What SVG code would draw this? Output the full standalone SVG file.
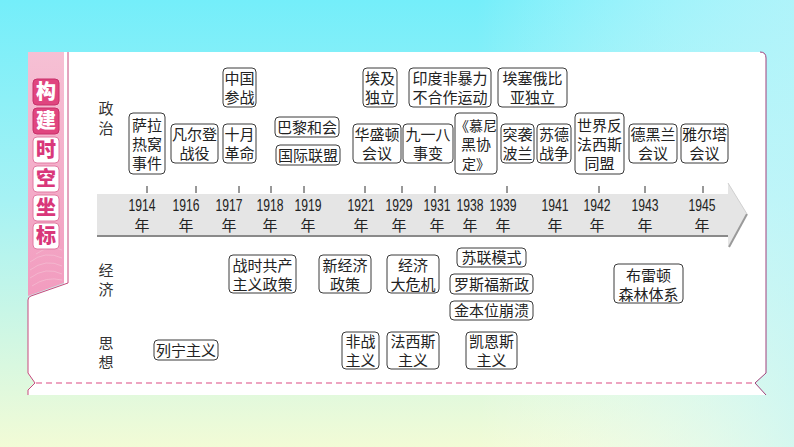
<svg xmlns="http://www.w3.org/2000/svg" width="794" height="447" viewBox="0 0 794 447">
<defs>
<linearGradient id="bg" x1="0" y1="0" x2="0" y2="1">
<stop offset="0" stop-color="#74eefa"/>
<stop offset="0.45" stop-color="#a6f2f4"/>
<stop offset="1" stop-color="#f2fbd6"/>
</linearGradient>
<linearGradient id="bg2" x1="0" y1="0" x2="1" y2="0">
<stop offset="0" stop-color="#f4fbd0" stop-opacity="0.0"/>
<stop offset="0.6" stop-color="#ffffff" stop-opacity="0"/>
<stop offset="1" stop-color="#c8f6fa" stop-opacity="0.7"/>
</linearGradient>
<linearGradient id="side" x1="0" y1="0" x2="0" y2="1">
<stop offset="0" stop-color="#f6c0d4"/>
<stop offset="1" stop-color="#f29cbf"/>
</linearGradient>
<style>
.t{font-family:"Noto Sans CJK SC","Noto Sans",sans-serif;font-size:15px;fill:#222;text-anchor:middle}
.lbl{font-family:"Noto Sans CJK SC","Noto Sans",sans-serif;font-size:15px;fill:#333;text-anchor:middle}
.yr{font-family:"Liberation Sans","Noto Sans CJK SC",sans-serif;font-size:16px;fill:#222;text-anchor:middle}
.yc{font-family:"Noto Sans CJK SC",sans-serif;font-size:15px;fill:#222;text-anchor:middle}
.box{fill:#fff;stroke:#3a3a3a;stroke-width:1}
.tick{stroke:#333;stroke-width:1}
.sb{font-family:"Noto Sans CJK SC",sans-serif;font-size:20px;font-weight:900;text-anchor:middle}
</style>
</defs>
<rect x="0" y="0" width="794" height="447" fill="url(#bg)"/>
<rect x="0" y="0" width="794" height="447" fill="url(#bg2)"/>

<!-- panel -->
<path d="M64 52 H760 Q766 52 766 58 V373 L755 383 L766 395 H28 V390 L35 383 L28 373 V300 Q28 297 31 296 L64 284 Z" fill="#fff"/>
<path d="M760 52 Q766 52 766 58 V373 L755 383 L766 395" fill="none" stroke="#a0407a" stroke-width="1"/>
<path d="M68 52 V283 L31 296 Q28 297 28 300 V373 L35 383 L28 390 V395" fill="none" stroke="#c8487e" stroke-width="1"/>
<!-- sidebar -->
<path d="M28 52 H64 V283 L28 296 Z" fill="url(#side)"/>
<g fill="none" stroke="#f7c9da" stroke-width="0.6" opacity="0.9">
<path d="M30 262 Q45 250 62 258"/><path d="M30 270 Q46 258 62 266"/><path d="M30 278 Q46 266 62 274"/><path d="M32 286 Q46 276 62 280"/>
<path d="M36 254 Q50 244 62 250"/>
</g>
<g id="sidebar">
<rect x="33" y="79" width="26" height="26" rx="4" fill="#e0457f" stroke="#c8306a"/>
<text class="sb" x="46" y="99" fill="#fff">构</text>
<rect x="33" y="108" width="26" height="26" rx="4" fill="#e0457f" stroke="#c8306a"/>
<text class="sb" x="46" y="128" fill="#fff">建</text>
<rect x="33" y="137" width="26" height="26" rx="4" fill="#fff" stroke="#e27aa2"/>
<text class="sb" x="46" y="157" fill="#d9377a">时</text>
<rect x="33" y="166" width="26" height="26" rx="4" fill="#fff" stroke="#e27aa2"/>
<text class="sb" x="46" y="186" fill="#d9377a">空</text>
<rect x="33" y="195" width="26" height="26" rx="4" fill="#fff" stroke="#e27aa2"/>
<text class="sb" x="46" y="215" fill="#d9377a">坐</text>
<rect x="33" y="223" width="26" height="26" rx="4" fill="#fff" stroke="#e27aa2"/>
<text class="sb" x="46" y="243" fill="#d9377a">标</text>
</g>
<line x1="36" y1="383" x2="755" y2="383" stroke="#dc4a82" stroke-width="1.2" stroke-dasharray="6 4"/>

<!-- row labels -->
<g id="labels">
<text class="lbl" x="106" y="113.5">政</text><text class="lbl" x="106" y="133.5">治</text>
<text class="lbl" x="106" y="275.5">经</text><text class="lbl" x="106" y="294.5">济</text>
<text class="lbl" x="106" y="348.5">思</text><text class="lbl" x="106" y="367.5">想</text>
</g>

<!-- timeline -->
<g id="timeline">
<rect x="97" y="194" width="632" height="42" fill="#e5e5e5"/>
<rect x="97" y="235" width="632" height="2" fill="#8a8a8a"/>
<polygon points="728,183 747,214 728,247 728,194" fill="#e5e5e5"/>
<polyline points="729,247 747,214" fill="none" stroke="#9a9a9a" stroke-width="2"/>
<polyline points="728,183 747,214" fill="none" stroke="#d0d0d0" stroke-width="1"/>
<g class="tick">
<line x1="147" y1="186" x2="147" y2="193"/><line x1="196" y1="186" x2="196" y2="193"/>
<line x1="239" y1="186" x2="239" y2="193"/><line x1="271" y1="186" x2="271" y2="193"/>
<line x1="304" y1="186" x2="304" y2="193"/><line x1="365" y1="186" x2="365" y2="193"/>
<line x1="402" y1="186" x2="402" y2="193"/><line x1="435" y1="186" x2="435" y2="193"/>
<line x1="507" y1="186" x2="507" y2="193"/><line x1="599" y1="186" x2="599" y2="193"/>
<line x1="645" y1="186" x2="645" y2="193"/><line x1="703" y1="186" x2="703" y2="193"/>
</g>
<text class="yr" x="142" y="211" textLength="27" lengthAdjust="spacingAndGlyphs">1914</text><text class="yc" x="142" y="231">年</text>
<text class="yr" x="186" y="211" textLength="27" lengthAdjust="spacingAndGlyphs">1916</text><text class="yc" x="186" y="231">年</text>
<text class="yr" x="229" y="211" textLength="27" lengthAdjust="spacingAndGlyphs">1917</text><text class="yc" x="229" y="231">年</text>
<text class="yr" x="270" y="211" textLength="27" lengthAdjust="spacingAndGlyphs">1918</text><text class="yc" x="270" y="231">年</text>
<text class="yr" x="308" y="211" textLength="27" lengthAdjust="spacingAndGlyphs">1919</text><text class="yc" x="308" y="231">年</text>
<text class="yr" x="361" y="211" textLength="27" lengthAdjust="spacingAndGlyphs">1921</text><text class="yc" x="361" y="231">年</text>
<text class="yr" x="399" y="211" textLength="27" lengthAdjust="spacingAndGlyphs">1929</text><text class="yc" x="399" y="231">年</text>
<text class="yr" x="437" y="211" textLength="27" lengthAdjust="spacingAndGlyphs">1931</text><text class="yc" x="437" y="231">年</text>
<text class="yr" x="470" y="211" textLength="27" lengthAdjust="spacingAndGlyphs">1938</text><text class="yc" x="470" y="231">年</text>
<text class="yr" x="503" y="211" textLength="27" lengthAdjust="spacingAndGlyphs">1939</text><text class="yc" x="503" y="231">年</text>
<text class="yr" x="555" y="211" textLength="27" lengthAdjust="spacingAndGlyphs">1941</text><text class="yc" x="555" y="231">年</text>
<text class="yr" x="597" y="211" textLength="27" lengthAdjust="spacingAndGlyphs">1942</text><text class="yc" x="597" y="231">年</text>
<text class="yr" x="645" y="211" textLength="27" lengthAdjust="spacingAndGlyphs">1943</text><text class="yc" x="645" y="231">年</text>
<text class="yr" x="702" y="211" textLength="27" lengthAdjust="spacingAndGlyphs">1945</text><text class="yc" x="702" y="231">年</text>
</g>

<!-- politics -->
<g id="n-sarajevo"><rect class="box" x="129" y="113" width="36" height="61" rx="4"/><text class="t" x="147" y="130.5">萨拉</text><text class="t" x="147" y="149.5">热窝</text><text class="t" x="147" y="168.5">事件</text></g>
<g id="n-verdun"><rect class="box" x="171" y="124" width="47" height="39" rx="4"/><text class="t" x="194.5" y="139.5">凡尔登</text><text class="t" x="194.5" y="158.5">战役</text></g>
<g id="n-china"><rect class="box" x="223" y="68" width="33" height="39" rx="4"/><text class="t" x="239.5" y="83.5">中国</text><text class="t" x="239.5" y="102.5">参战</text></g>
<g id="n-october"><rect class="box" x="223" y="124" width="33" height="39" rx="4"/><text class="t" x="239.5" y="139.5">十月</text><text class="t" x="239.5" y="158.5">革命</text></g>
<g id="n-paris"><rect class="box" x="275" y="117" width="64" height="20" rx="4"/><text class="t" x="307" y="132.5">巴黎和会</text></g>
<g id="n-league"><rect class="box" x="276" y="145" width="64" height="20" rx="4"/><text class="t" x="308" y="160.5">国际联盟</text></g>
<g id="n-egypt"><rect class="box" x="363" y="68" width="34" height="39" rx="4"/><text class="t" x="380" y="83.5">埃及</text><text class="t" x="380" y="102.5">独立</text></g>
<g id="n-washington"><rect class="box" x="353" y="124" width="48" height="39" rx="4"/><text class="t" x="377" y="139.5">华盛顿</text><text class="t" x="377" y="158.5">会议</text></g>
<g id="n-india"><rect class="box" x="409" y="68" width="82" height="39" rx="4"/><text class="t" x="450" y="83.5">印度非暴力</text><text class="t" x="450" y="102.5">不合作运动</text></g>
<g id="n-ethiopia"><rect class="box" x="498" y="68" width="69" height="39" rx="4"/><text class="t" x="532.5" y="83.5">埃塞俄比</text><text class="t" x="532.5" y="102.5">亚独立</text></g>
<g id="n-918"><rect class="box" x="403" y="124" width="50" height="39" rx="4"/><text class="t" x="428" y="139.5">九一八</text><text class="t" x="428" y="158.5">事变</text></g>
<g id="n-munich"><rect class="box" x="455" y="113" width="42" height="61" rx="4"/><text class="t" x="476" y="130.5" style="font-size:14px">《慕尼</text><text class="t" x="476" y="149.5">黑协</text><text class="t" x="476" y="168.5" style="font-size:14px">定》</text></g>
<g id="n-poland"><rect class="box" x="501" y="124" width="33" height="39" rx="4"/><text class="t" x="517.5" y="139.5">突袭</text><text class="t" x="517.5" y="158.5">波兰</text></g>
<g id="n-sovietgerman"><rect class="box" x="537" y="124" width="34" height="39" rx="4"/><text class="t" x="554" y="139.5">苏德</text><text class="t" x="554" y="158.5">战争</text></g>
<g id="n-alliance"><rect class="box" x="575" y="113" width="49" height="61" rx="4"/><text class="t" x="599.5" y="130.5">世界反</text><text class="t" x="599.5" y="149.5">法西斯</text><text class="t" x="599.5" y="168.5">同盟</text></g>
<g id="n-tehran"><rect class="box" x="629" y="124" width="48" height="39" rx="4"/><text class="t" x="653" y="139.5">德黑兰</text><text class="t" x="653" y="158.5">会议</text></g>
<g id="n-yalta"><rect class="box" x="681" y="124" width="47" height="39" rx="4"/><text class="t" x="704.5" y="139.5">雅尔塔</text><text class="t" x="704.5" y="158.5">会议</text></g>

<!-- economy -->
<g id="n-warcomm"><rect class="box" x="229" y="255" width="67" height="38" rx="4"/><text class="t" x="262.5" y="270.5">战时共产</text><text class="t" x="262.5" y="289.5">主义政策</text></g>
<g id="n-nep"><rect class="box" x="319" y="255" width="52" height="38" rx="4"/><text class="t" x="345" y="270.5">新经济</text><text class="t" x="345" y="289.5">政策</text></g>
<g id="n-crisis"><rect class="box" x="387" y="255" width="52" height="38" rx="4"/><text class="t" x="413" y="270.5">经济</text><text class="t" x="413" y="289.5">大危机</text></g>
<g id="n-sovietmodel"><rect class="box" x="457" y="248" width="69" height="19" rx="4"/><text class="t" x="491.5" y="263">苏联模式</text></g>
<g id="n-newdeal"><rect class="box" x="450" y="274" width="83" height="20" rx="4"/><text class="t" x="491.5" y="289.5">罗斯福新政</text></g>
<g id="n-gold"><rect class="box" x="450" y="301" width="83" height="19" rx="4"/><text class="t" x="491.5" y="316">金本位崩溃</text></g>
<g id="n-bretton"><rect class="box" x="614" y="264" width="69" height="39" rx="4"/><text class="t" x="648.5" y="280.5">布雷顿</text><text class="t" x="648.5" y="299.5">森林体系</text></g>

<!-- thought -->
<g id="n-leninism"><rect class="box" x="154" y="340" width="64" height="20" rx="4"/><text class="t" x="186" y="355.5">列宁主义</text></g>
<g id="n-antiwar"><rect class="box" x="342" y="332" width="37" height="37" rx="4"/><text class="t" x="360.5" y="346.5">非战</text><text class="t" x="360.5" y="365.5">主义</text></g>
<g id="n-fascism"><rect class="box" x="387" y="332" width="52" height="37" rx="4"/><text class="t" x="413" y="346.5">法西斯</text><text class="t" x="413" y="365.5">主义</text></g>
<g id="n-keynes"><rect class="box" x="466" y="332" width="51" height="37" rx="4"/><text class="t" x="491.5" y="346.5">凯恩斯</text><text class="t" x="491.5" y="365.5">主义</text></g>
</svg>
